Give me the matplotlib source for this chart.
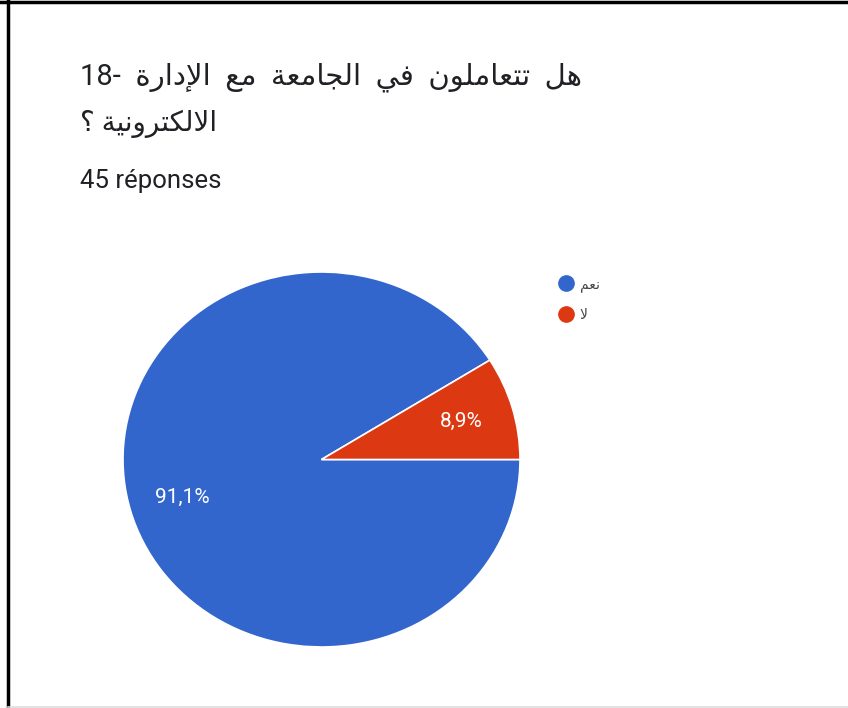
import matplotlib
matplotlib.use("Agg")
import matplotlib.pyplot as plt
from matplotlib.lines import Line2D

# ---------------- data ----------------
categories = ["نعم", "لا"]
values = [41, 4]                      # 45 réponses -> 91,1% / 8,9%
colors = ["#3366cc", "#dc3912"]
title_ar_line1 = "هل تتعاملون في الجامعة مع الإدارة"
title_number = "18-"
title_ar_line2 = "الالكترونية ؟"
subtitle = "45 réponses"

# ---------------- minimal Arabic shaping (matplotlib has no bidi/shaping) ----------------
FORMS = {
    'ا': ('\uFE8D', '\uFE8E', None, None),
    'إ': ('\uFE87', '\uFE88', None, None),
    'ت': ('\uFE95', '\uFE96', '\uFE97', '\uFE98'),
    'ة': ('\uFE93', '\uFE94', None, None),
    'ج': ('\uFE9D', '\uFE9E', '\uFE9F', '\uFEA0'),
    'د': ('\uFEA9', '\uFEAA', None, None),
    'ر': ('\uFEAD', '\uFEAE', None, None),
    'ع': ('\uFEC9', '\uFECA', '\uFECB', '\uFECC'),
    'ف': ('\uFED1', '\uFED2', '\uFED3', '\uFED4'),
    'ك': ('\uFED9', '\uFEDA', '\uFEDB', '\uFEDC'),
    'ل': ('\uFEDD', '\uFEDE', '\uFEDF', '\uFEE0'),
    'م': ('\uFEE1', '\uFEE2', '\uFEE3', '\uFEE4'),
    'ن': ('\uFEE5', '\uFEE6', '\uFEE7', '\uFEE8'),
    'ه': ('\uFEE9', '\uFEEA', '\uFEEB', '\uFEEC'),
    'و': ('\uFEED', '\uFEEE', None, None),
    'ي': ('\uFEF1', '\uFEF2', '\uFEF3', '\uFEF4'),
    'لا': ('\uFEFB', '\uFEFC', None, None),
    'لإ': ('\uFEF9', '\uFEFA', None, None),
}


def shape_word(word):
    toks, i = [], 0
    while i < len(word):
        if word[i] == 'ل' and i + 1 < len(word) and word[i + 1] in 'اإ':
            toks.append(word[i:i + 2]); i += 2
        else:
            toks.append(word[i]); i += 1
    out = []
    for k, t in enumerate(toks):
        f = FORMS.get(t)
        if f is None:
            out.append(t); continue
        prev = toks[k - 1] if k > 0 else None
        nxt = toks[k + 1] if k + 1 < len(toks) else None
        jp = prev in FORMS and FORMS[prev][2] is not None
        jn = f[2] is not None and nxt in FORMS
        if jp and jn:
            g = f[3]
        elif jp:
            g = f[1]
        elif jn:
            g = f[2]
        else:
            g = f[0]
        out.append(g)
    return ''.join(reversed(out))


def rtl(text, sep=' '):
    return sep.join(shape_word(w) for w in reversed(text.split(' ')))


FAM = ['Roboto', 'DejaVu Sans']
plt.rcParams['font.family'] = FAM

W, H = 848, 708
fig = plt.figure(figsize=(W / 100, H / 100), dpi=100)
fig.patch.set_facecolor('white')

# frame lines of the screenshot
fig.add_artist(Line2D([0, 1], [1 - 2 / H, 1 - 2 / H], color='black', lw=2.5))
fig.add_artist(Line2D([8 / W, 8 / W], [0, 1], color='black', lw=2.5))
fig.add_artist(Line2D([8 / W, 1], [1.5 / H, 1.5 / H], color='#dddddd', lw=1.2))

# title / subtitle (left-to-right page: number first, then the Arabic run)
txtc = '#202124'
line1 = title_number + '  ' + rtl(title_ar_line1, sep='  ')
fig.text(80 / W, 1 - 84 / H, line1, fontsize=21, color=txtc, family=FAM, va='baseline')
fig.text(80 / W, 1 - 131 / H, rtl(title_ar_line2), fontsize=20, color=txtc, family=FAM, va='baseline')
fig.text(80 / W, 1 - 188 / H, subtitle, fontsize=18.5, color=txtc, family=FAM, va='baseline')

# pie
ax = fig.add_axes([123 / W, (H - 647) / H, 397 / W, 375 / H])
start = 360.0 * values[1] / sum(values)
wedges, texts, autotexts = ax.pie(
    values, colors=colors, startangle=start, counterclock=True,
    autopct=lambda p: f"{p:.1f}%".replace('.', ','), pctdistance=0.73,
    wedgeprops=dict(edgecolor='white', linewidth=1.2),
    textprops=dict(color='white', fontsize=15, family=FAM))
ax.set_aspect('auto')
ax.set_xlim(-1, 1)
ax.set_ylim(-1, 1)
ax.axis('off')

# legend
handles = [Line2D([], [], marker='o', linestyle='', markersize=11,
                  markerfacecolor=c, markeredgecolor=c) for c in colors]
fig.legend(handles, [shape_word(c) for c in categories], loc='upper left',
           bbox_to_anchor=(549 / W, 1 - 270 / H), frameon=False,
           prop=dict(family=FAM, size=10), labelcolor='#444444',
           handletextpad=0.2, labelspacing=1.15, borderpad=0, handlelength=1.5)

fig.savefig('out.png', dpi=100)
